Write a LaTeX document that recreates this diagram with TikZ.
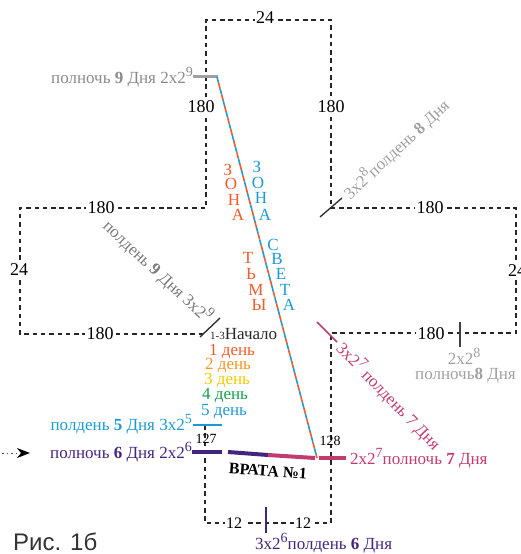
\documentclass[tikz,border=0pt]{standalone}
\usepackage{fontspec}
\setmainfont{Liberation Serif}
\newfontfamily\capsans{Liberation Sans}
\definecolor{gtA}{HTML}{8A8A8A}
\definecolor{gtB}{HTML}{7A7A7A}
\definecolor{gtC}{HTML}{A0A0A0}
\definecolor{dpurp}{HTML}{43257F}
\definecolor{mgnt}{HTML}{C23B6F}
\definecolor{lblue}{HTML}{1C9AD6}
\definecolor{ored}{HTML}{F15A29}
\definecolor{orng}{HTML}{F7941D}
\definecolor{yllw}{HTML}{F5C800}
\definecolor{grn}{HTML}{14A04A}
\newcommand{\mysup}[1]{\raisebox{7pt}{\fontsize{14}{14}\selectfont #1}}
\begin{document}
\begin{tikzpicture}[x=1pt,y=-1pt,
  dimline/.style={draw=black!85, dash pattern=on 4.5pt off 3.8pt, line width=1.1pt},
  dimlbl/.style={fill=white, inner sep=1.5pt, font=\fontsize{18}{18}\selectfont},
  smlbl/.style={fill=white, inner sep=1.5pt, font=\fontsize{16}{16}\selectfont},
  lbl/.style={inner sep=0pt, font=\fontsize{17}{17}\selectfont},
  zlet/.style={inner sep=0pt, font=\fontsize{17}{17}\selectfont},
  gatebar/.style={line width=4pt},
  tickln/.style={line width=2pt}
]
\useasboundingbox (0,0) rectangle (520,554);
% cross outline
\coordinate (c1) at (206,20);
\coordinate (c2) at (331,20);
\coordinate (c3) at (331,208);
\coordinate (c4) at (516,208);
\coordinate (c5) at (516,333);
\coordinate (c6) at (331,333);
\coordinate (c7) at (331,523);
\coordinate (c8) at (205,523);
\coordinate (c9) at (205,425);
\coordinate (c10) at (206,334);
\coordinate (c11) at (20,334);
\coordinate (c12) at (20,208);
\coordinate (c13) at (206,208);
\draw[dimline] (c9) -- (c8) -- (c7) -- (c6) -- (c5) -- (c4) -- (c3) -- (c2) -- (c1) -- (c13) -- (c12) -- (c11) -- (c10);
% dimension labels
\node[dimlbl] (d24t) at (265,18) {24};
\node[dimlbl] (d180a) at (201,107) {180};
\node[dimlbl] (d180b) at (331,107) {180};
\node[dimlbl] (d180c) at (101,208) {180};
\node[dimlbl] (d180d) at (100,334) {180};
\node[dimlbl] (d180e) at (430,208) {180};
\node[dimlbl] (d180f) at (431,334) {180};
\node[dimlbl] (d24l) at (19,270) {24};
\node[dimlbl] (d24r) at (517,271) {24};
\node[smlbl] (d12a) at (234,523) {12};
\node[smlbl] (d12b) at (303,523) {12};
% corner ticks
\coordinate (t1a) at (320,217); \coordinate (t1b) at (342,198);
\draw[line width=1.4pt, black!80] (t1a) -- (t1b);
\coordinate (t2a) at (200,337); \coordinate (t2b) at (220,318);
\draw[line width=1.4pt, black!80] (t2a) -- (t2b);
\coordinate (t3a) at (317,322); \coordinate (t3b) at (337,342);
\draw[line width=1.6pt, mgnt] (t3a) -- (t3b);
\coordinate (t4a) at (460,322); \coordinate (t4b) at (460,347);
\draw[tickln, black!75] (t4a) -- (t4b);
\coordinate (t5a) at (266,507); \coordinate (t5b) at (266,533);
\draw[tickln, dpurp] (t5a) -- (t5b);
% gray top bar
\coordinate (g1) at (193,76); \coordinate (g2) at (218,76);
\draw[line width=3pt, gtC] (g1) -- (g2);
% main diagonal
\coordinate (m1) at (217,77); \coordinate (m2) at (317,458);
\draw[line width=1.6pt, lblue, dash pattern=on 6pt off 6pt] (m1) -- (m2);
\draw[line width=1.6pt, ored, dash pattern=on 6pt off 6pt, dash phase=6pt] (m1) -- (m2);
% blue day-5 bar
\coordinate (b1) at (193,425); \coordinate (b2) at (222,425);
\draw[line width=2pt, lblue] (b1) -- (b2);
% gate bars
\coordinate (p1) at (192,452); \coordinate (p2) at (222,452);
\coordinate (p3) at (228,452); \coordinate (p4) at (268,455);
\coordinate (p5) at (315,458); \coordinate (p6) at (319,458); \coordinate (p7) at (346,458);
\draw[gatebar, dpurp] (p1) -- (p2);
\draw[gatebar, dpurp] (p3) -- (p4);
\draw[gatebar, mgnt] (p4) -- (p5);
\draw[gatebar, mgnt] (p6) -- (p7);
% arrow marker
\coordinate (a0) at (2,453); \coordinate (a1) at (16,453);
\draw[line width=1pt, black!70, dash pattern=on 1.5pt off 3pt] (a0) -- (a1);
\coordinate (ah1) at (17,448); \coordinate (ah2) at (30,453); \coordinate (ah3) at (17,458); \coordinate (ah4) at (21,453);
\fill[black] (ah1) -- (ah2) -- (ah3) -- (ah4) -- cycle;
% texts
\node[lbl, text=gtA, anchor=base east] (n9) at (193,83) {полночь \textbf{9} Дня 2x2\mysup{9}};
\node[lbl, text=black!85, anchor=base west] (nach) at (210,339) {{\fontsize{11}{11}\selectfont 1-3}Начало};
\node[lbl, text=ored, anchor=base] (day1) at (232,355) {1 день};
\node[lbl, text=orng, anchor=base] (day2) at (228,369) {2 день};
\node[lbl, text=yllw, anchor=base] (day3) at (227,384) {3 день};
\node[lbl, text=grn, anchor=base] (day4) at (225,399) {4 день};
\node[lbl, text=lblue, anchor=base] (day5) at (224,415) {5 день};
\node[lbl, text=lblue, anchor=base east] (p5t) at (192,430) {полдень \textbf{5} Дня 3x2\mysup{5}};
\node[lbl, text=dpurp, anchor=base east] (m6t) at (192,458) {полночь \textbf{6} Дня 2x2\mysup{6}};
\node[lbl, text=mgnt, anchor=base west] (m7t) at (350,464) {2x2\mysup{7}полночь \textbf{7} Дня};
\node[lbl, text=dpurp, anchor=base west] (p6t) at (255,549) {3x2\mysup{6}полдень \textbf{6} Дня};
\node[lbl, text=gtC, anchor=base] (m8a) at (464,364) {2x2\mysup{8}};
\node[lbl, text=gtC, anchor=base east] (m8b) at (516,379) {полночь\textbf{8} Дня};
\node[inner sep=0pt, font=\fontsize{14}{14}\selectfont, anchor=base] (n127) at (206,443) {127};
\node[inner sep=0pt, font=\fontsize{14}{14}\selectfont, anchor=base] (n128) at (330,445) {128};
\node[inner sep=0pt, font=\fontsize{16}{16}\selectfont\bfseries, rotate=-4] (gate) at (268,471) {ВРАТА №1};
\node[lbl, text=gtB, rotate=-43] (p9t) at (158,271) {полдень \textbf{9} Дня 3x2\mysup{9}};
\node[lbl, text=gtC, rotate=43] (p8t) at (396,149) {3x2\mysup{8}полдень \textbf{8} Дня};
\node[lbl, text=mgnt, rotate=-46] (p7t) at (389,396) {3x2\mysup{7} полдень 7 Дня};
% zone letters
\node[zlet, text=ored] (zt1) at (228,170) {З};
\node[zlet, text=ored] (zt2) at (231,184) {О};
\node[zlet, text=ored] (zt3) at (234,200) {Н};
\node[zlet, text=ored] (zt4) at (238,215) {А};
\node[zlet, text=ored] (zt5) at (248,258) {Т};
\node[zlet, text=ored] (zt6) at (251,274) {Ь};
\node[zlet, text=ored] (zt7) at (256,290) {М};
\node[zlet, text=ored] (zt8) at (259,305) {Ы};
\node[zlet, text=lblue] (zs1) at (257,167) {З};
\node[zlet, text=lblue] (zs2) at (258,183) {О};
\node[zlet, text=lblue] (zs3) at (261,198) {Н};
\node[zlet, text=lblue] (zs4) at (265,215) {А};
\node[zlet, text=lblue] (zs5) at (273,245) {С};
\node[zlet, text=lblue] (zs6) at (277,259) {В};
\node[zlet, text=lblue] (zs7) at (281,274) {Е};
\node[zlet, text=lblue] (zs8) at (285,290) {Т};
\node[zlet, text=lblue] (zs9) at (289,305) {А};
% caption
\node[inner sep=0pt, anchor=base west, text=black!80, font=\capsans\fontsize{24}{24}\selectfont] (cap) at (13,550) {Рис. 1б};
\end{tikzpicture}
\end{document}
